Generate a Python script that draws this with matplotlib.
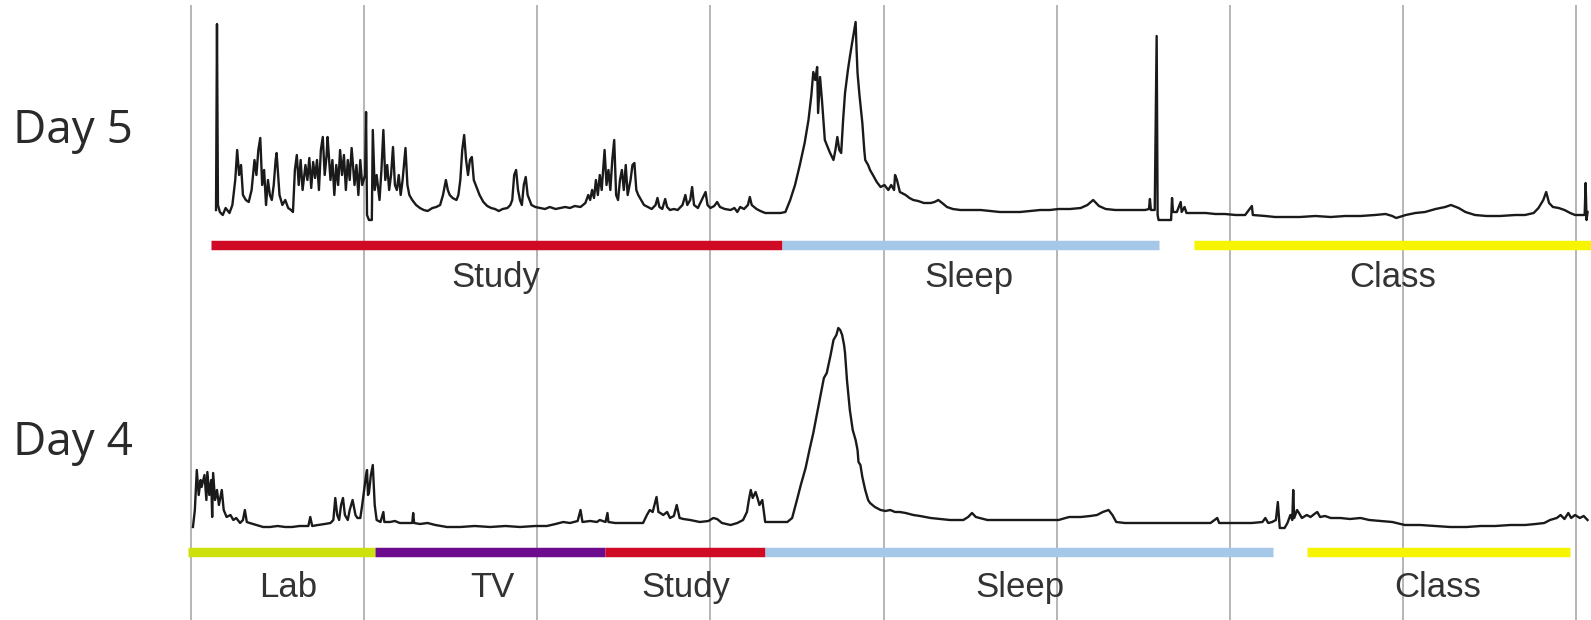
import matplotlib.pyplot as plt

# time in minutes from the first grid line, signal in arbitrary units
day5_t = [26, 27, 28, 30, 33, 36, 40, 43, 46, 48, 50, 52, 54, 57, 60, 63, 66, 68, 70, 72,
          74, 76, 78, 80, 82, 84, 86, 88, 89, 92, 95, 98, 101, 104, 106, 108, 110, 112, 114, 116,
          119, 121, 123, 125, 127, 129, 131, 133, 135, 137, 139, 141, 142, 145, 147, 149, 151, 153, 155, 157,
          159, 161, 163, 165, 167, 170, 172, 174, 176, 178, 181, 182, 183, 185, 188, 189, 191, 193, 196, 198,
          200, 202, 204, 206, 208, 210, 212, 214, 216, 218, 220, 223, 225, 227, 230, 234, 238, 242, 246, 251,
          255, 259, 262, 265, 267, 269, 272, 276, 278, 280, 282, 284, 286, 288, 290, 292, 294, 296, 300, 304,
          308, 312, 316, 320, 324, 329, 332, 334, 336, 338, 340, 342, 344, 346, 348, 350, 354, 358, 363, 368,
          373, 379, 384, 389, 394, 399, 405, 410, 413, 415, 417, 419, 421, 423, 425, 427, 430, 432, 434, 436,
          438, 440, 442, 444, 446, 448, 450, 452, 454, 457, 459, 461, 463, 465, 468, 471, 475, 479, 483, 485,
          487, 490, 493, 495, 498, 502, 506, 511, 514, 516, 519, 521, 523, 527, 531, 535, 537, 540, 544, 547,
          550, 555, 561, 565, 568, 571, 575, 579, 581, 583, 588, 592, 597, 602, 607, 613, 618, 623, 628, 633,
          638, 642, 645, 647, 649, 651, 652, 654, 656, 659, 664, 668, 670, 672, 674, 676, 678, 680, 683, 685,
          687, 690, 691, 692, 693, 695, 698, 700, 701, 704, 706, 709, 713, 717, 721, 725, 728, 731, 732, 734,
          737, 743, 747, 751, 756, 762, 769, 773, 777, 781, 786, 792, 800, 810, 821, 831, 841, 852, 862, 873,
          883, 893, 902, 914, 925, 932, 938, 944, 951, 961, 971, 982, 992, 996, 997, 998, 1002, 1004, 1005, 1006,
          1013, 1019, 1020, 1021, 1025, 1029, 1030, 1033, 1035, 1044, 1055, 1065, 1075, 1086, 1096, 1103, 1104, 1117, 1127, 1138,
          1153, 1169, 1185, 1200, 1216, 1231, 1242, 1249, 1253, 1263, 1273, 1283, 1294, 1304, 1310, 1318, 1325, 1335, 1347, 1361,
          1377, 1387, 1396, 1401, 1406, 1409, 1412, 1416, 1422, 1428, 1434, 1439, 1445, 1449, 1450, 1451, 1452]
day5_v = [10, 196, 15, 8, 5, 12, 7, 15, 40, 70, 45, 55, 25, 20, 18, 30, 60, 45, 70, 82,
          35, 50, 15, 40, 25, 20, 35, 60, 67, 25, 15, 20, 12, 10, 8, 50, 65, 35, 60, 30,
          55, 40, 62, 32, 58, 42, 60, 30, 70, 83, 45, 65, 83, 40, 60, 25, 55, 35, 70, 45,
          65, 30, 60, 40, 72, 35, 55, 25, 60, 35, 45, 108, 5, 0, 0, 90, 30, 45, 20, 50,
          90, 40, 55, 30, 45, 73, 35, 30, 45, 25, 40, 72, 35, 25, 20, 15, 12, 10, 9, 12,
          13, 15, 25, 40, 30, 25, 22, 20, 25, 40, 70, 85, 60, 45, 60, 63, 40, 35, 25, 18,
          14, 12, 11, 9, 11, 12, 15, 20, 45, 50, 30, 20, 15, 35, 43, 25, 15, 13, 12, 11,
          13, 11, 12, 13, 12, 14, 13, 17, 25, 20, 30, 22, 40, 25, 45, 30, 70, 35, 50, 30,
          60, 80, 25, 20, 40, 50, 30, 55, 25, 40, 55, 57, 30, 25, 20, 15, 13, 11, 15, 22,
          13, 11, 21, 13, 10, 11, 10, 15, 25, 15, 20, 33, 15, 12, 20, 28, 15, 12, 14, 18,
          13, 11, 10, 12, 8, 13, 11, 15, 23, 15, 11, 9, 7, 7, 7, 7, 8, 20, 35, 55,
          77, 100, 125, 148, 140, 153, 107, 143, 120, 80, 68, 60, 70, 83, 70, 67, 100, 127, 150, 163,
          175, 192, 198, 170, 147, 125, 97, 70, 60, 55, 50, 45, 38, 33, 35, 30, 35, 30, 45, 40,
          28, 25, 22, 20, 19, 17, 17, 18, 20, 17, 13, 11, 10, 10, 10, 9, 8, 8, 8, 9,
          10, 10, 11, 11, 12, 15, 20, 14, 11, 10, 10, 10, 10, 11, 21, 10, 10, 184, 5, 0,
          0, 0, 22, 8, 8, 18, 8, 13, 7, 7, 7, 6, 6, 5, 5, 14, 5, 4, 3, 3,
          3, 4, 3, 4, 4, 5, 6, 4, 2, 5, 7, 8, 11, 13, 15, 12, 8, 5, 4, 4,
          5, 5, 7, 12, 20, 28, 17, 13, 12, 10, 7, 5, 5, 5, 37, 0, 8]

day4_t = [2, 4, 6, 8, 10, 11, 14, 16, 17, 19, 21, 22, 23, 25, 27, 29, 32, 34, 37, 41,
          44, 47, 51, 54, 56, 58, 61, 68, 75, 82, 90, 98, 105, 113, 122, 124, 126, 132, 139, 145,
          148, 150, 152, 154, 156, 158, 160, 163, 165, 168, 171, 173, 176, 178, 180, 182, 183, 184, 185, 187,
          189, 191, 193, 197, 200, 201, 207, 212, 217, 223, 230, 231, 232, 238, 246, 254, 266, 280, 295, 311,
          327, 342, 358, 370, 379, 387, 394, 402, 405, 407, 415, 422, 425, 431, 433, 434, 441, 451, 462, 470,
          474, 477, 480, 484, 486, 488, 491, 495, 498, 502, 505, 508, 512, 519, 529, 538, 543, 547, 552, 561,
          568, 574, 578, 580, 582, 584, 587, 589, 591, 594, 596, 597, 604, 613, 620, 625, 630, 634, 639, 643,
          647, 651, 655, 658, 661, 665, 668, 671, 673, 675, 677, 679, 680, 682, 685, 688, 691, 693, 694, 696,
          698, 701, 704, 706, 711, 717, 722, 727, 732, 737, 743, 751, 758, 769, 779, 789, 803, 808, 812, 816,
          828, 841, 862, 883, 902, 913, 925, 935, 942, 948, 954, 958, 962, 971, 983, 997, 1013, 1029, 1044, 1060,
          1067, 1069, 1086, 1103, 1114, 1117, 1120, 1124, 1128, 1130, 1132, 1137, 1140, 1143, 1145, 1146, 1147, 1150, 1152, 1155,
          1160, 1164, 1168, 1171, 1174, 1179, 1185, 1195, 1205, 1216, 1225, 1237, 1249, 1262, 1278, 1294, 1309, 1326, 1341, 1356,
          1372, 1387, 1398, 1407, 1413, 1420, 1424, 1428, 1432, 1435, 1439, 1444, 1448, 1452]
day4_v = [3, 20, 60, 35, 50, 43, 55, 30, 58, 35, 50, 13, 57, 30, 40, 25, 40, 20, 13, 15,
          10, 12, 7, 10, 20, 8, 7, 5, 3, 3, 4, 3, 3, 4, 4, 13, 4, 5, 6, 7,
          10, 32, 15, 10, 25, 32, 15, 10, 20, 30, 15, 12, 12, 25, 40, 55, 60, 35, 37, 55,
          65, 25, 10, 8, 18, 8, 8, 9, 7, 7, 7, 17, 7, 6, 7, 5, 3, 3, 4, 3,
          4, 3, 4, 4, 6, 8, 7, 9, 20, 8, 9, 8, 10, 8, 17, 8, 7, 7, 7, 7,
          15, 20, 18, 33, 18, 17, 15, 18, 12, 14, 25, 12, 11, 10, 8, 9, 12, 11, 7, 5,
          7, 10, 18, 30, 40, 32, 38, 32, 25, 30, 15, 8, 8, 8, 8, 12, 30, 45, 62, 80,
          97, 117, 137, 152, 157, 175, 190, 195, 202, 200, 195, 185, 177, 150, 120, 100, 90, 80, 68, 65,
          53, 40, 30, 27, 23, 20, 19, 20, 18, 18, 17, 15, 14, 12, 11, 10, 10, 13, 17, 13,
          10, 10, 10, 10, 10, 13, 13, 14, 15, 18, 20, 15, 8, 7, 7, 7, 7, 7, 7, 7,
          12, 7, 7, 7, 8, 12, 7, 8, 10, 28, 2, 2, 7, 15, 10, 40, 12, 20, 17, 12,
          15, 13, 16, 18, 13, 14, 12, 12, 11, 12, 10, 9, 8, 5, 5, 4, 3, 3, 4, 4,
          5, 5, 6, 7, 10, 12, 15, 11, 17, 12, 15, 12, 14, 10]

# activity periods: (start, end, label, colour)
day5_acts = ['Study', 'Sleep', 'Class']
day5_start = [21, 614, 1043]
day5_end = [614, 1006, 1456]
day5_colors = ['#cf0a25', '#a6c8e8', '#f6f400']
day5_label_x = [317, 809, 1249]

day4_acts = ['Lab', 'TV', 'Study', 'Sleep', 'Class']
day4_start = [-3, 191, 430, 597, 1160]
day4_end = [191, 430, 597, 1125, 1434]
day4_colors = ['#cde20c', '#6c0b8e', '#cf0a25', '#a6c8e8', '#f6f400']
day4_label_x = [101, 313, 514, 862, 1296]

grid_t = [0, 180, 360, 540, 720, 900, 1080, 1260, 1440]

fig = plt.figure(figsize=(15.91, 6.2), dpi=100)
ax5 = fig.add_axes([0, 320 / 620, 1, 300 / 620])
ax4 = fig.add_axes([0, 0, 1, 320 / 620])

panels = [
    (ax5, day5_t, day5_v, day5_acts, day5_start, day5_end, day5_colors, day5_label_x,
     (-80, 220), 215, -25, -67, 'Day 5', 77),
    (ax4, day4_t, day4_v, day4_acts, day4_start, day4_end, day4_colors, day4_label_x,
     (-90, 230), 230, -22, -67, 'Day 4', 75),
]

for ax, t, v, acts, st, en, cols, lx, ylim, gtop, bar_y, lab_y, name, name_y in panels:
    ax.set_xlim(-198.6, 1455.6)
    ax.set_ylim(*ylim)
    ax.axis('off')
    ax.vlines(grid_t, ylim[0], gtop, color='#b5b5b5', lw=1.4, zorder=1)
    ax.plot(t, v, color='#1a1a1a', lw=1.7, zorder=3)
    for a, s, e, c, x in zip(acts, st, en, cols, lx):
        ax.plot([s, e], [bar_y, bar_y], color=c, lw=6.8, solid_capstyle='butt', zorder=2)
        ax.text(x, lab_y, a, ha='center', va='baseline', fontsize=25,
                family='Liberation Sans', color='#333333', zorder=4)
    ax.text(-185, name_y, name, ha='left', va='baseline', fontsize=33,
            family='Open Sans', color='#2a2a2a')

fig.savefig('out.png', dpi=100)
